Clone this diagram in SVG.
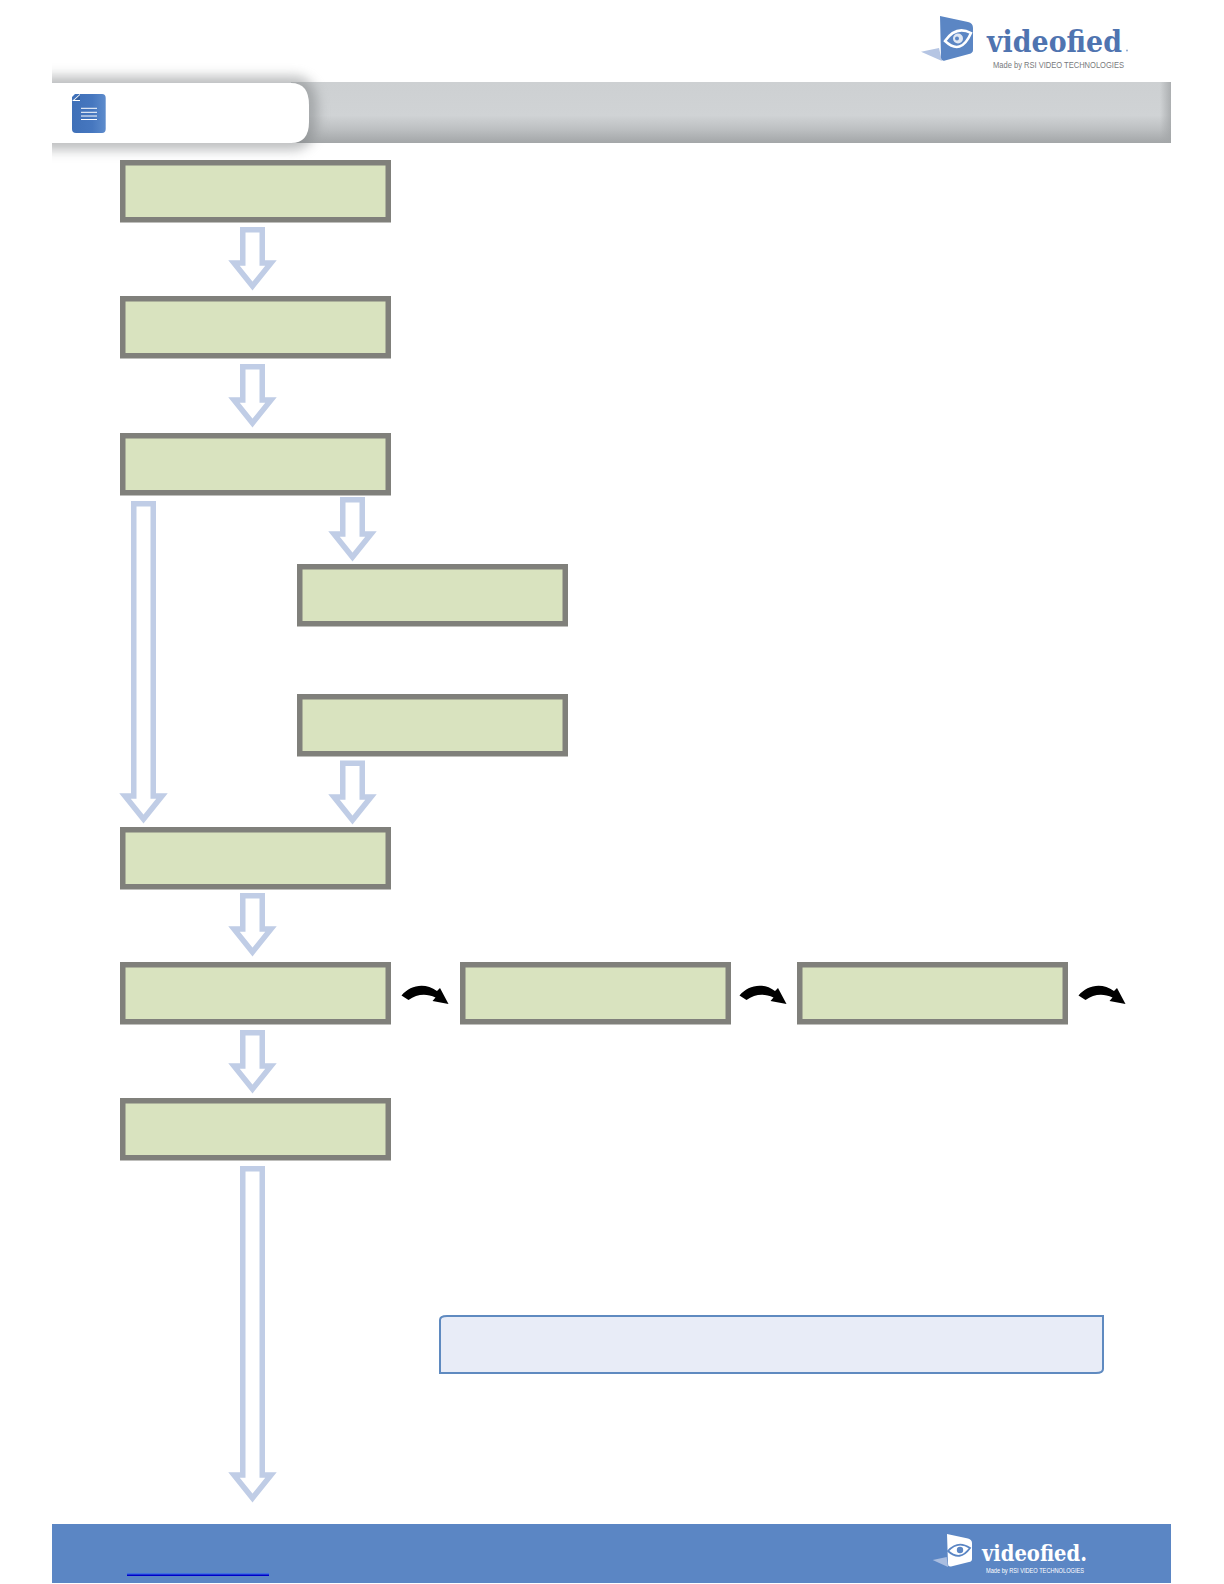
<svg xmlns="http://www.w3.org/2000/svg" width="1224" height="1584" viewBox="0 0 1224 1584">
  <style>
    .box { fill: #d9e3bf; stroke: #80807b; stroke-width: 5.5; }
    .flow { fill: #ffffff; stroke: #c0cde6; stroke-width: 5.5; stroke-linejoin: miter; stroke-miterlimit: 3; }
    .turn { fill: #000000; }
    .logo-name { font-family: "DejaVu Serif", "Liberation Serif", serif; font-weight: 700; }
    .logo-sub { font-family: "Liberation Sans", Arial, sans-serif; }
  </style>
  <defs>
    <linearGradient id="band" x1="0" y1="0" x2="0" y2="1">
      <stop offset="0" stop-color="#cdd0d2"/>
      <stop offset="0.55" stop-color="#d0d3d5"/>
      <stop offset="0.78" stop-color="#bcbfc1"/>
      <stop offset="1" stop-color="#a3a6a8"/>
    </linearGradient>
    <linearGradient id="band-edge" x1="0" y1="0" x2="1" y2="0">
      <stop offset="0" stop-color="#a3a6a8" stop-opacity="0"/>
      <stop offset="1" stop-color="#a3a6a8" stop-opacity="0.8"/>
    </linearGradient>
    <linearGradient id="doc" x1="0" y1="0" x2="1" y2="0">
      <stop offset="0" stop-color="#3f70b8"/>
      <stop offset="0.6" stop-color="#4677bf"/>
      <stop offset="1" stop-color="#5e8ccc"/>
    </linearGradient>
    <filter id="soft" filterUnits="userSpaceOnUse" x="0" y="40" width="380" height="150">
      <feGaussianBlur stdDeviation="6"/>
    </filter>
    <clipPath id="page-left"><rect x="52" y="60" width="1119" height="110"/></clipPath>
    <path id="turn-arrow" class="turn" d="M401.500 995.500 C410 985 425 982 437 991 L440 988 L448.500 1004 L432.500 1001 L435.500 997.500 C426 993 417 994 408.500 1000 Z"/>
  </defs>

  <rect width="1224" height="1584" fill="#ffffff"/>

  <g id="header">
    <rect x="52" y="82" width="1119" height="61" fill="url(#band)"/>
    <rect x="1160" y="82" width="11" height="61" fill="url(#band-edge)"/>
    <g clip-path="url(#page-left)">
      <path d="M40 76 H296 Q318 78 318 112 Q318 146 296 150 H40 Z" fill="#7c7f81" opacity="0.5" filter="url(#soft)"/>
    </g>
    <path d="M52 83 H291 Q309 83 309 105 V122 Q309 143 291 143 H52 Z" fill="#ffffff"/>
    <path d="M52 82.500 H291" stroke="#c4c6c8" stroke-width="1" fill="none"/>
    <path d="M72 97 L75 94 H102 Q105.700 94 105.700 98 V129 Q105.700 133 102 133 H76 Q72 133 72 129 Z" fill="url(#doc)"/>
    <path d="M72 101 L80 94 V101 Z" fill="#ffffff"/>
    <path d="M74.500 100 L80 95 V100 Z" fill="#35609f"/>
    <path d="M81 108.300 H97 M81 112.300 H97 M81 116 H97 M81 119.500 H97" stroke="#ffffff" stroke-width="1" fill="none"/>
  </g>

  <g id="logo-top">
    <path d="M921 51.700 L939 48 L942 61 Z" fill="#b5c5e3"/>
    <path d="M940 16 L968 22 Q973 23 973 28 V50 Q973 53 969 54 L945 60.500 Q941.500 61.500 941 58 Z" fill="#5b86c4"/>
    <path d="M945 41 Q956 25 971 33 Q961 56 945 41 Z" fill="none" stroke="#ffffff" stroke-width="2.500"/>
    <circle cx="958" cy="38.500" r="5" fill="#dfe7f3"/>
    <circle cx="957" cy="38.500" r="2" fill="#5b86c4"/>
    <text class="logo-name" x="987" y="52" font-size="29" fill="#4f74b0" textLength="135" lengthAdjust="spacingAndGlyphs">videofied</text>
    <circle cx="1127" cy="50.500" r="1" fill="#8fa8d0"/>
    <text class="logo-sub" x="993" y="68" font-size="9.500" fill="#77797c" textLength="131" lengthAdjust="spacingAndGlyphs">Made by RSI VIDEO TECHNOLOGIES</text>
  </g>

  <g id="connectors">
    <path class="flow" d="M242.750 229.750 H262.250 V263 H271 L252.500 286 L234 263 H242.750 Z"/>
    <path class="flow" d="M242.750 366.750 H262.250 V400 H271 L252.500 423 L234 400 H242.750 Z"/>
    <path class="flow" d="M133.750 503.750 H153.250 V796 H162 L143.500 819 L125 796 H133.750 Z"/>
    <path class="flow" d="M342.750 499.750 H362.250 V534 H371 L352.500 557 L334 534 H342.750 Z"/>
    <path class="flow" d="M342.750 763.250 H362.250 V797 H371 L352.500 820 L334 797 H342.750 Z"/>
    <path class="flow" d="M242.750 895.750 H262.250 V929 H271 L252.500 952 L234 929 H242.750 Z"/>
    <path class="flow" d="M242.750 1032.750 H262.250 V1066 H271 L252.500 1089 L234 1066 H242.750 Z"/>
    <path class="flow" d="M242.750 1168.750 H262.250 V1475 H271 L252.500 1498 L234 1475 H242.750 Z"/>
    <use href="#turn-arrow"/>
    <use href="#turn-arrow" x="338"/>
    <use href="#turn-arrow" x="677"/>
  </g>

  <g id="node-1"><rect class="box" x="122.750" y="162.750" width="265.500" height="57"/></g>
  <g id="node-2"><rect class="box" x="122.750" y="298.750" width="265.500" height="57"/></g>
  <g id="node-3"><rect class="box" x="122.750" y="435.750" width="265.500" height="57"/></g>
  <g id="node-4"><rect class="box" x="299.750" y="566.750" width="265.500" height="57"/></g>
  <g id="node-5"><rect class="box" x="299.750" y="696.750" width="265.500" height="57"/></g>
  <g id="node-6"><rect class="box" x="122.750" y="829.750" width="265.500" height="57"/></g>
  <g id="node-7"><rect class="box" x="122.750" y="964.750" width="265.500" height="57"/></g>
  <g id="node-8"><rect class="box" x="462.750" y="964.750" width="265.500" height="57"/></g>
  <g id="node-9"><rect class="box" x="799.750" y="964.750" width="265.500" height="57"/></g>
  <g id="node-10"><rect class="box" x="122.750" y="1100.750" width="265.500" height="57"/></g>

  <g id="note">
    <path d="M440 1320 Q440 1316 447 1316 H1103 V1369 Q1103 1373 1096 1373 H440 Z" fill="#e8ecf7" stroke="#5f8ac0" stroke-width="2"/>
  </g>

  <g id="footer">
    <rect x="52" y="1524" width="1119" height="59" fill="#5b86c4"/>
    <rect x="127" y="1573" width="142" height="3" fill="#3f6fe0"/>
    <rect x="127" y="1574.500" width="142" height="1.500" fill="#0000c8"/>
    <path d="M932.700 1560 L946.700 1557 L948 1567 Z" fill="#a9bde0"/>
    <path d="M947 1534 L968 1538.500 Q972 1539.500 972 1543 V1559 Q972 1561.500 969 1562 L951 1566.500 Q948 1567 948 1564 Z" fill="#ffffff"/>
    <path d="M948 1551 Q958 1540 970 1548 Q960 1562 948 1551 Z" fill="none" stroke="#5b86c4" stroke-width="1.800"/>
    <circle cx="960" cy="1550" r="3.200" fill="#5b86c4"/>
    <text class="logo-name" x="982" y="1561" font-size="23" fill="#ffffff" textLength="105" lengthAdjust="spacingAndGlyphs">videofied.</text>
    <text class="logo-sub" x="986" y="1573" font-size="7" fill="#ffffff" textLength="98" lengthAdjust="spacingAndGlyphs">Made by RSI VIDEO TECHNOLOGIES</text>
  </g>
</svg>
